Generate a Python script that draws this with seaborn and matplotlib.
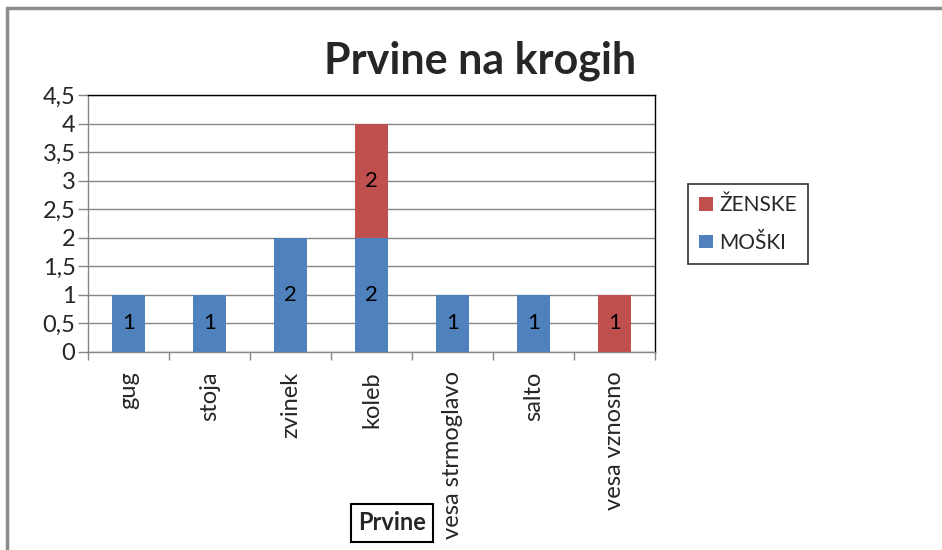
import matplotlib
matplotlib.use("Agg")
import matplotlib.pyplot as plt
import seaborn as sns
import pandas as pd
from matplotlib.patches import Patch
from matplotlib.lines import Line2D
from matplotlib.ticker import FuncFormatter, MultipleLocator, FixedLocator

categories = ["gug", "stoja", "zvinek", "koleb", "vesa strmoglavo", "salto", "vesa vznosno"]
moski = [1, 1, 2, 2, 1, 1, 0]
zenske = [0, 0, 0, 2, 0, 0, 1]
title = "Prvine na krogih"
xlabel = "Prvine"
series_names = ["ŽENSKE", "MOŠKI"]

BLUE = "#4F81BD"
RED = "#C0504D"
GRID = "#868686"

sns.set_style("white")
plt.rcParams["font.family"] = ["Lato", "DejaVu Sans"]

df = pd.DataFrame({"cat": categories, "m": moski, "z": zenske})
df["total"] = df["m"] + df["z"]

fig = plt.figure(figsize=(9.42, 5.5), dpi=100)
ax = fig.add_axes([88 / 942, 1 - 352 / 550, (655 - 88) / 942, (352 - 95) / 550])

# stacked: total in red, men in blue on top of it
sns.barplot(data=df, x="cat", y="total", color=RED, width=0.40, ax=ax,
            saturation=1, linewidth=0, zorder=3)
sns.barplot(data=df, x="cat", y="m", color=BLUE, width=0.40, ax=ax,
            saturation=1, linewidth=0, zorder=3)

# value labels
for i, (m, z) in enumerate(zip(moski, zenske)):
    if m:
        ax.text(i, m / 2, str(m), ha="center", va="center", fontsize=16,
                color="black", zorder=5)
    if z:
        ax.text(i, m + z / 2, str(z), ha="center", va="center", fontsize=16,
                color="black", zorder=5)

ax.set_xlim(-0.5, len(categories) - 0.5)
ax.set_ylim(0, 4.5)
ax.yaxis.set_major_locator(MultipleLocator(0.5))
ax.yaxis.set_major_formatter(FuncFormatter(
    lambda v, p: (f"{v:g}").replace(".", ",")))
ax.grid(axis="y", color=GRID, linewidth=1, zorder=0)
ax.set_axisbelow(True)

ax.tick_params(axis="y", which="major", direction="out", length=7, width=1,
               color=GRID, labelsize=17, pad=2, left=True)
ax.set_xticks(range(len(categories)))
ax.set_xticklabels(categories, rotation=90, va="top", ha="center", fontsize=17)
ax.xaxis.set_minor_locator(FixedLocator([i - 0.5 for i in range(len(categories) + 1)]))
ax.tick_params(axis="x", which="major", length=0, pad=14, bottom=True)
ax.tick_params(axis="x", which="minor", length=6, width=1, color=GRID,
               direction="out", bottom=True)

for s in ["top", "right"]:
    ax.spines[s].set_visible(True)
    ax.spines[s].set_color("black")
    ax.spines[s].set_linewidth(1)
for s in ["left", "bottom"]:
    ax.spines[s].set_visible(True)
    ax.spines[s].set_color(GRID)
    ax.spines[s].set_linewidth(1)
ax.set_xlabel("")
ax.set_ylabel("")

# title
fig.text(480 / 942, 1 - 61 / 550, title, ha="center", va="center",
         fontsize=31, fontweight="bold")

# axis title boxed
fig.text(392 / 942, 1 - 523 / 550, xlabel, ha="center", va="center",
         fontsize=17, fontweight="bold",
         bbox=dict(boxstyle="square,pad=0.3", facecolor="white",
                   edgecolor="black", linewidth=1.5))

# legend
handles = [Patch(facecolor=RED, edgecolor="none", label=series_names[0]),
           Patch(facecolor=BLUE, edgecolor="none", label=series_names[1])]
leg = fig.legend(handles=handles, loc="center left",
                 bbox_to_anchor=(688 / 942, 1 - 224 / 550),
                 frameon=True, fancybox=False, fontsize=15,
                 handlelength=0.65, handleheight=0.65, handletextpad=0.3,
                 labelspacing=0.85, borderpad=0.55, borderaxespad=0)
leg.get_frame().set_edgecolor("black")
leg.get_frame().set_linewidth(1.2)

# outer chart border (top and left visible)
fig.lines.append(Line2D([7 / 942, 1.0], [1 - 8 / 550, 1 - 8 / 550],
                        transform=fig.transFigure, color="#8c8c8c", linewidth=2.5))
fig.lines.append(Line2D([7 / 942, 7 / 942], [0, 1 - 8 / 550],
                        transform=fig.transFigure, color="#8c8c8c", linewidth=2.5))

fig.savefig("out.png", dpi=100)
